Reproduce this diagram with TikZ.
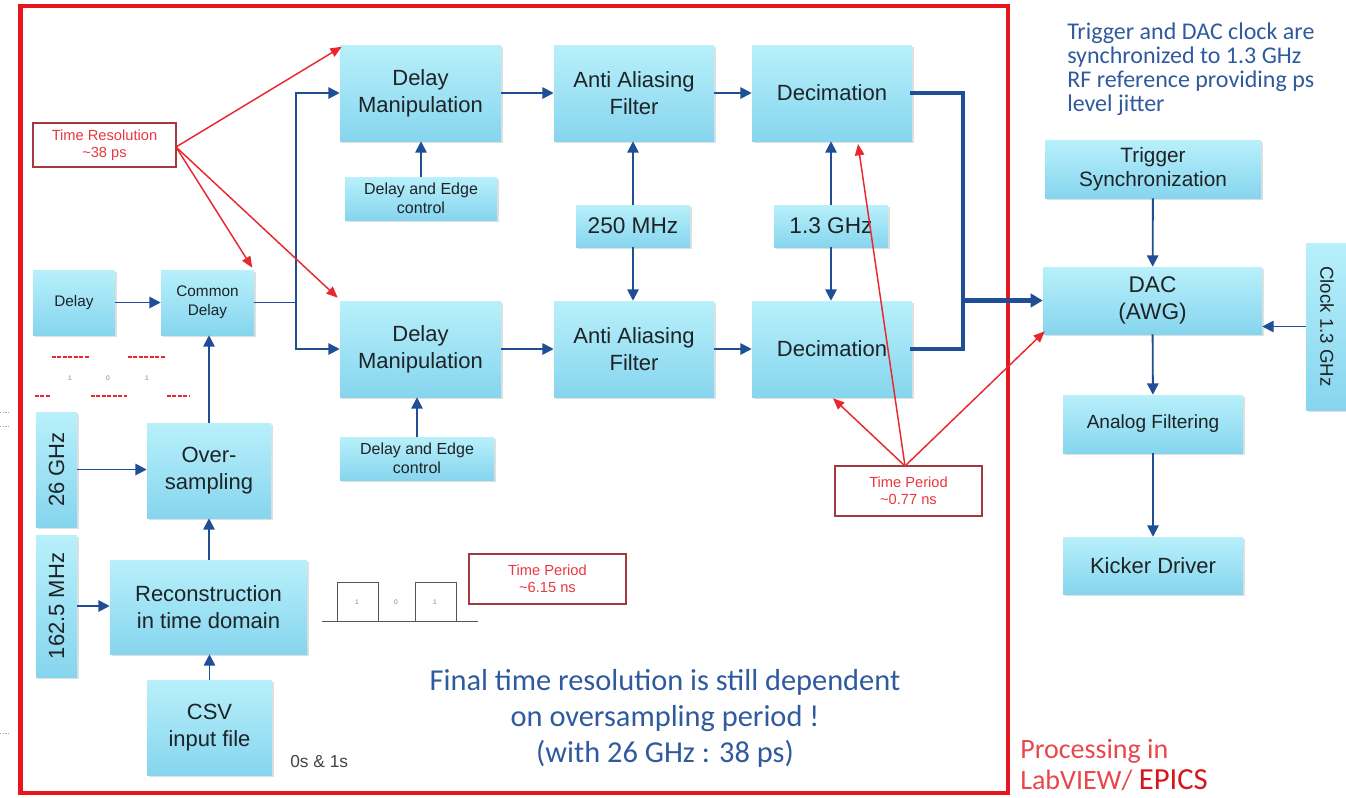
\documentclass[tikz,border=0pt]{standalone}
\usepackage{fontspec}
\usepackage{graphicx}
\usetikzlibrary{arrows.meta,shadows,calc}
\newfontfamily\arialf{Liberation Sans}
\newfontfamily\calib{Carlito}

\definecolor{boxtop}{HTML}{B8F0FB}
\definecolor{boxbot}{HTML}{86D5EE}
\definecolor{boxtext}{HTML}{1E2326}
\definecolor{flowblue}{HTML}{1F4E96}
\definecolor{hintred}{HTML}{E8282E}
\definecolor{notefr}{HTML}{A23A3F}
\definecolor{notetx}{HTML}{E83840}
\definecolor{framered}{HTML}{E8161C}
\definecolor{infoblue}{HTML}{2F5A9E}
\definecolor{procred}{HTML}{E8474C}
\definecolor{epicsred}{HTML}{D9141B}
\definecolor{wavegray}{HTML}{555555}

\tikzset{
  blk/.style={rectangle, inner sep=0pt, align=center, draw=none,
    top color=boxtop, bottom color=boxbot,
    drop shadow={shadow xshift=1.2pt, shadow yshift=-1.2pt, opacity=0.25, fill=black!50},
    text=boxtext, font=\arialf\fontsize{16.5}{20}\selectfont},
  small/.style={font=\arialf\fontsize{11.5}{14}\selectfont},
  sz/.style 2 args={minimum width=#1*0.75pt, minimum height=#2*0.75pt},
  note/.style={rectangle, draw=notefr, line width=1.1pt, fill=white, text=notetx,
    align=center, inner sep=0pt, font=\arialf\fontsize{11}{13}\selectfont},
  flow/.style={draw=flowblue, line width=1.4pt, -{Triangle[length=8.5pt,width=8.5pt]}},
  link/.style={draw=flowblue, line width=1.4pt},
  bus/.style={draw=flowblue, line width=3.2pt},
  busflow/.style={draw=flowblue, line width=3.2pt, -{Triangle[length=9pt,width=10pt]}},
  hint/.style={draw=hintred, line width=1.1pt, -{Triangle[length=8.5pt,width=7pt]}},
  bits/.style={draw=hintred, line width=0.9pt, dash pattern=on 3pt off 1.1pt},
}

\begin{document}
\begin{tikzpicture}[x=0.75pt, y=-0.75pt]
\useasboundingbox (0,0) rectangle (1346,797);

% faint marks in the left margin
\draw[gray!70, line width=0.4pt, dash pattern=on 1pt off 1pt] (0,412) -- (10,412);
\draw[gray!70, line width=0.4pt, dash pattern=on 1pt off 1pt] (0,426) -- (10,426);
\draw[gray!70, line width=0.4pt, dash pattern=on 1pt off 1pt] (0,733) -- (10,733);

% processing frame
\draw[framered, line width=3.2pt] (20.5,6) rectangle (1008,793);

% ---- signal generation chain ----
\node[blk, sz={82}{65}, small] (delay) at (74,302.5) {Delay};
\node[blk, sz={93}{65}, small] (cdelay) at (207.5,302.5) {Common\\Delay};
\node[blk, sz={124}{95}] (osamp) at (209,470.5) {Over-\\sampling};
\node[blk, sz={41}{115}] (g26) at (56.5,469.5) {\rotatebox{90}{26 GHz}};
\node[blk, sz={41}{142}] (m162) at (56.5,606) {\rotatebox{90}{162.5 MHz}};
\node[blk, sz={197}{94}] (recon) at (208.5,607) {Reconstruction\\in time domain};
\node[blk, sz={125}{95}] (csv) at (209.5,727.5) {CSV\\input file};

% ---- two parallel channels ----
\node[blk, sz={161}{96}] (dmA) at (420.5,93) {Delay\\Manipulation};
\node[blk, sz={160}{96}] (aafA) at (634,93) {Anti Aliasing\\Filter};
\node[blk, sz={160}{96}] (decA) at (832,93) {Decimation};
\node[blk, sz={161}{96}] (dmB) at (420.5,349) {Delay\\Manipulation};
\node[blk, sz={160}{96}] (aafB) at (634,349) {Anti Aliasing\\Filter};
\node[blk, sz={160}{96}] (decB) at (832,349) {Decimation};
\node[blk, sz={152}{43}, font=\arialf\fontsize{12}{14}\selectfont] (ctlA) at (421,198.5) {Delay and Edge\\control};
\node[blk, sz={154}{43}, font=\arialf\fontsize{12}{14}\selectfont] (ctlB) at (417,458.5) {Delay and Edge\\control};
\node[blk, sz={114}{42}, font=\arialf\fontsize{17}{20}\selectfont] (f250) at (633,226) {250 MHz};
\node[blk, sz={114}{42}, font=\arialf\fontsize{17}{20}\selectfont] (f13) at (831,226) {1.3 GHz};

% ---- output stage ----
\node[blk, sz={216}{58}, font=\arialf\fontsize{15.6}{18.5}\selectfont] (trig) at (1153,169) {Trigger\\Synchronization};
\node[blk, sz={219}{67}, font=\arialf\fontsize{17}{20.5}\selectfont] (dac) at (1152.5,300.5) {DAC\\(AWG)};
\node[blk, sz={42}{167}, font=\arialf\fontsize{14}{17}\selectfont] (clk) at (1327,326.5) {\rotatebox{-90}{Clock 1.3 GHz}};
\node[blk, sz={180}{58}, font=\arialf\fontsize{14.3}{17}\selectfont] (af) at (1153,424) {Analog Filtering};
\node[blk, sz={180}{57}] (kick) at (1153,565.5) {Kicker Driver};

% ---- notes ----
\node[note, sz={143}{44}] (tres) at (104.5,145) {Time Resolution\\\textasciitilde 38 ps};
\node[note, sz={157}{50}] (tp615) at (547.5,579) {Time Period\\\textasciitilde 6.15 ns};
\node[note, sz={147}{50}] (tp077) at (908.5,491) {Time Period\\\textasciitilde 0.77 ns};

% ---- blue signal flow ----
\draw[flow] (delay) -- (cdelay);
\draw[flow] (osamp.north) -- (osamp.north |- cdelay.south);
\draw[flow] (g26.east) -- (g26.east -| osamp.west);
\draw[flow] (m162.east) -- (m162.east -| recon.west);
\draw[flow] (recon.north -| osamp.south) -- (osamp.south);
\draw[flow] (csv.north) -- (csv.north |- recon.south);

\coordinate (split) at (296,302.5);
\draw[link] (cdelay.east) -- (split);
\draw[flow] (split) |- (dmA.west);
\draw[flow] (split) |- (dmB.west);

\draw[flow] (dmA) -- (aafA);
\draw[flow] (aafA) -- (decA);
\draw[flow] (dmB) -- (aafB);
\draw[flow] (aafB) -- (decB);
\draw[flow] (ctlA.north) -- (ctlA.north |- dmA.south);
\draw[flow] (ctlB.north) -- (ctlB.north |- dmB.south);
\draw[flow] (f250.north) -- (f250.north |- aafA.south);
\draw[flow] (f250.south) -- (f250.south |- aafB.north);
\draw[flow] (f13.north) -- (f13.north |- decA.south);
\draw[flow] (f13.south) -- (f13.south |- decB.north);

\coordinate (merge) at (963,300.5);
\draw[bus, line cap=rect] (decA.east) -| (merge |- decB.east) -- (decB.east);
\draw[busflow] (merge) -- (dac.west);

\draw[flow] (trig) -- (dac);
\draw[flow] (clk.west) -- (clk.west -| dac.east);
\draw[flow] (dac) -- (af);
\draw[flow] (af) -- (kick);

% ---- red timing hints ----
\coordinate (tresout) at (176,147);
\draw[hint] (tresout) -- ($(dmA.north west)+(2,2)$);
\draw[hint] (tresout) -- ($(cdelay.north east)+(-2,-2)$);
\draw[hint] (tresout) -- ($(dmB.north west)+(-2,-3)$);

\coordinate (tpapex) at (905,466);
\coordinate (decAhit) at (858,144);
\draw[hint] (tpapex) -- (decAhit);
\draw[hint] (tpapex) -- ($(decB.south)+(1,1)$);
\draw[hint] (tpapex) -- ($(dac.south west)+(2,-3)$);

% ---- bit pattern sketch near the delay block ----
\draw[bits] (52,357) -- (89,357);
\draw[bits] (128,357) -- (166,357);
\draw[bits] (35,396) -- (50,396);
\draw[bits] (91,396) -- (127,396);
\draw[bits] (167,396) -- (189,396);
\node[text=gray, font=\arialf\fontsize{5}{6}\selectfont] (bA) at (70,378) {1};
\node[text=gray, font=\arialf\fontsize{5}{6}\selectfont] (bB) at (108,378) {0};
\node[text=gray, font=\arialf\fontsize{5}{6}\selectfont] (bC) at (147,378) {1};

% ---- pulse train ----
\draw[wavegray, line width=0.5pt] (322,621) -- (478,621);
\draw[wavegray, line width=0.5pt] (337,621) -- (337,582) -- (378,582) -- (378,621);
\draw[wavegray, line width=0.5pt] (415,621) -- (415,582) -- (456,582) -- (456,621);
\node[text=gray, font=\arialf\fontsize{5}{6}\selectfont] (pA) at (357,602) {1};
\node[text=gray, font=\arialf\fontsize{5}{6}\selectfont] (pB) at (396,602) {0};
\node[text=gray, font=\arialf\fontsize{5}{6}\selectfont] (pC) at (435,602) {1};
\node[text=boxtext!85, font=\arialf\fontsize{13}{15}\selectfont, anchor=west, inner sep=0pt] (bits) at (290,762) {0s \& 1s};

% ---- captions ----
\node[text=infoblue, font=\calib\fontsize{22.8}{27}\selectfont, align=center, inner sep=0pt] (final) at (665,718) {Final time resolution is still dependent\\on oversampling period !\\(with 26 GHz : 38 ps)};
\node[text=infoblue, font=\calib\fontsize{18}{18}\selectfont, align=left, anchor=north west, inner sep=0pt] (sync) at (1067,23) {Trigger and DAC clock are\\synchronized to 1.3 GHz\\RF reference providing ps\\level jitter};
\node[text=procred, font=\calib\fontsize{21}{23.5}\selectfont, align=left, anchor=north west, inner sep=0pt] (proc) at (1020,739) {Processing in\\LabVIEW/ {\color{epicsred}\fontsize{23}{23.5}\selectfont EPICS}};
\end{tikzpicture}
\end{document}
